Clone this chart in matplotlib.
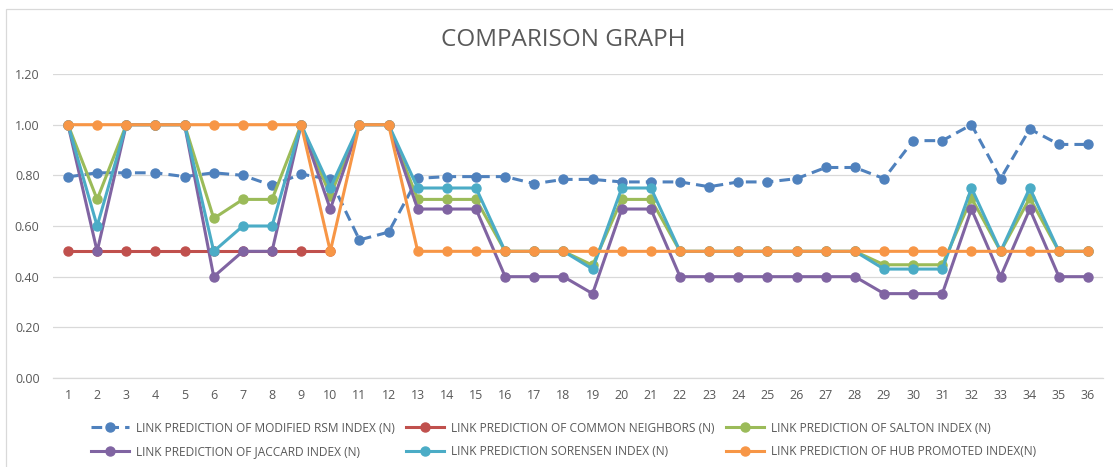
import matplotlib.pyplot as plt
from matplotlib.patches import Rectangle

plt.rcParams['font.family'] = ['Open Sans', 'DejaVu Sans']

x = list(range(1, 37))

rsm = [0.794, 0.810, 0.810, 0.810, 0.795, 0.810, 0.800, 0.760, 0.805, 0.784,
       0.545, 0.576, 0.788, 0.795, 0.795, 0.795, 0.767, 0.784, 0.784, 0.774,
       0.774, 0.774, 0.755, 0.774, 0.774, 0.787, 0.831, 0.831, 0.787, 0.937,
       0.937, 1.000, 0.787, 0.983, 0.922, 0.922]
common = [0.5] * 10 + [None] * 26
salton = [1.0, 0.705, 1.0, 1.0, 1.0, 0.63, 0.705, 0.705, 1.0, 0.72,
          1.0, 1.0, 0.705, 0.705, 0.705, 0.5, 0.5, 0.5, 0.445, 0.705,
          0.705, 0.5, 0.5, 0.5, 0.5, 0.5, 0.5, 0.5, 0.447, 0.447,
          0.447, 0.71, 0.5, 0.71, 0.5, 0.5]
jaccard = [1.0, 0.5, 1.0, 1.0, 1.0, 0.4, 0.5, 0.5, 1.0, 0.667,
           1.0, 1.0, 0.667, 0.667, 0.667, 0.4, 0.4, 0.4, 0.333, 0.667,
           0.667, 0.4, 0.4, 0.4, 0.4, 0.4, 0.4, 0.4, 0.333, 0.333,
           0.333, 0.667, 0.4, 0.667, 0.4, 0.4]
sorensen = [1.0, 0.6, 1.0, 1.0, 1.0, 0.5, 0.6, 0.6, 1.0, 0.75,
            1.0, 1.0, 0.75, 0.75, 0.75, 0.5, 0.5, 0.5, 0.43, 0.75,
            0.75, 0.5, 0.5, 0.5, 0.5, 0.5, 0.5, 0.5, 0.43, 0.43,
            0.43, 0.75, 0.5, 0.75, 0.5, 0.5]
hub = [1.0] * 9 + [0.5, 1.0, 1.0] + [0.5] * 24

y_ticks = [0.0, 0.2, 0.4, 0.6, 0.8, 1.0, 1.2]

fig = plt.figure(figsize=(11.13, 4.67), dpi=100)
ax = fig.add_axes([0.048, 0.1906, 0.9427, 0.6509])

lw = 2.2
ms = 6.5
ax.plot(x, rsm, color='#4F81BD', lw=lw, marker='o', ms=ms, dashes=(3.5, 2),
        label='LINK PREDICTION OF MODIFIED RSM INDEX (N)')
ax.plot(x, common, color='#C0504D', lw=lw, marker='o', ms=ms,
        label='LINK PREDICTION OF COMMON NEIGHBORS (N)')
ax.plot(x, salton, color='#9BBB59', lw=lw, marker='o', ms=ms,
        label='LINK PREDICTION OF SALTON INDEX (N)')
ax.plot(x, jaccard, color='#8064A2', lw=lw, marker='o', ms=ms,
        label='LINK PREDICTION OF JACCARD INDEX (N)')
ax.plot(x, sorensen, color='#4BACC6', lw=lw, marker='o', ms=ms,
        label='LINK PREDICTION SORENSEN INDEX (N)')
ax.plot(x, hub, color='#F79646', lw=lw, marker='o', ms=ms,
        label='LINK PREDICTION OF HUB PROMOTED INDEX(N)')

ax.set_xlim(0.5, 36.5)
ax.set_ylim(0, 1.2)
ax.set_xticks(x)
ax.set_yticks(y_ticks)
ax.set_yticklabels(['%.2f' % v for v in y_ticks])
ax.tick_params(length=0, labelsize=9, labelcolor='#595959')
ax.tick_params(axis='y', pad=10)
ax.tick_params(axis='x', pad=8)
ax.grid(axis='y', color='#D9D9D9', lw=0.9)
ax.set_axisbelow(True)
for s in ['top', 'right', 'left']:
    ax.spines[s].set_visible(False)
ax.spines['bottom'].set_color('#D9D9D9')
ax.spines['bottom'].set_linewidth(0.9)

fig.text(0.5063, 0.915, 'COMPARISON GRAPH', ha='center', va='center',
         fontsize=17.5, color='#595959')

# legend fills column by column, so reorder to read row by row
handles, labels = ax.get_legend_handles_labels()
order = [0, 3, 1, 4, 2, 5]
fig.legend([handles[i] for i in order], [labels[i] for i in order],
           loc='center', bbox_to_anchor=(0.5063, 0.0578), ncol=3,
           frameon=False, fontsize=8.6, handlelength=3.2, handletextpad=0.6,
           columnspacing=0.9, labelspacing=0.9, borderpad=0, borderaxespad=0,
           numpoints=1, labelcolor='#595959')

fig.patches.append(Rectangle((6 / 1113, -0.1), 1.2, 1.1 - 9 / 467,
                             transform=fig.transFigure, fill=False,
                             edgecolor='#D9D9D9', lw=0.9))

fig.savefig('out.png', dpi=100)
